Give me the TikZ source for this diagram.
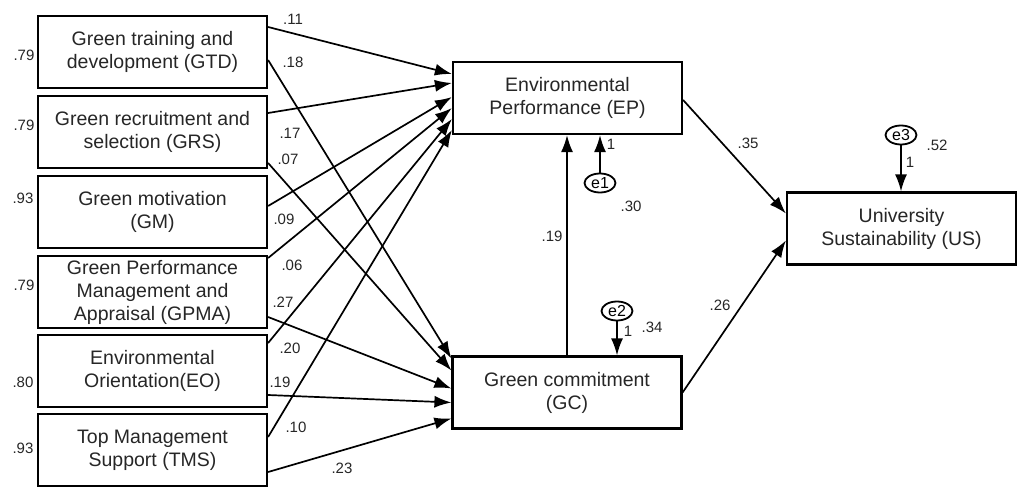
\documentclass[tikz,border=0pt]{standalone}
\usepackage{fontspec}
\setmainfont{Liberation Sans}
\usetikzlibrary{arrows.meta,shapes.geometric}
\begin{document}
\begin{tikzpicture}[x=1pt,y=-1pt,
  box/.style={draw,line width=2.2pt,minimum width=229pt,minimum height=72pt,inner sep=0pt,align=center,
    font=\fontsize{19.5}{23}\selectfont,text=black!85},
  err/.style={draw,ellipse,line width=1.8pt,minimum width=31pt,minimum height=19pt,inner sep=0pt,
    font=\fontsize{16}{16}\selectfont},
  coef/.style={font=\fontsize{15}{15}\selectfont,inner sep=0pt,text=black!85},
  path/.style={line width=1.7pt,-{Latex[length=17pt,width=12pt]}}]
\useasboundingbox (0,0) rectangle (1019,489);
% boxes
\node[box] (GTD) at (152.5,52) {Green training and\\development (GTD)};
\node[box] (GRS) at (152.5,132) {Green recruitment and\\selection (GRS)};
\node[box] (GM) at (152.5,212) {Green motivation\\(GM)};
\node[box] (GPMA) at (152.5,292) {Green Performance\\Management and\\Appraisal (GPMA)};
\node[box] (EO) at (152.5,371) {Environmental\\Orientation(EO)};
\node[box] (TMS) at (152.5,450) {Top Management\\Support (TMS)};
\node[box] (EP) at (567.5,98) {Environmental\\Performance (EP)};
\node[box] (GC) at (567,392.5) {Green commitment\\(GC)};
\node[box] (US) at (901.5,228.5) {University\\Sustainability (US)};
% error terms
\node[err] (e1) at (600,183) {e1};
\node[err] (e2) at (617,311) {e2};
\node[err] (e3) at (901,135) {e3};
% paths to EP
\draw[path] ([yshift=25pt]GTD.east) -- ([yshift=24pt]EP.west);
\draw[path] ([yshift=19pt]GRS.east) -- ([yshift=15pt]EP.west);
\draw[path] ([yshift=6pt]GM.east) -- ([yshift=1pt]EP.west);
\draw[path] ([yshift=34pt]GPMA.east) -- ([yshift=-10pt]EP.west);
\draw[path] ([yshift=28pt]EO.east) -- ([yshift=-21pt]EP.west);
\draw[path] ([yshift=13pt]TMS.east) -- ([yshift=-32pt]EP.west);
% paths to GC
\draw[path] ([yshift=-8pt]GTD.east) -- ([yshift=34pt]GC.west);
\draw[path] ([yshift=-31pt]GRS.east) -- ([yshift=22pt]GC.west);
\draw[path] ([yshift=-25pt]GPMA.east) -- ([yshift=4pt]GC.west);
\draw[path] ([yshift=-24pt]EO.east) -- ([yshift=-10pt]GC.west);
\draw[path] ([yshift=-22pt]TMS.east) -- ([yshift=-26pt]GC.west);
% other paths
\draw[path] (GC.north) -- (EP.south -| GC.north);
\draw[path] ([yshift=-2pt]EP.east) -- ([yshift=15pt]US.west);
\draw[path] (GC.east) -- ([yshift=-12pt]US.west);
\draw[path] (e1) -- (EP.south -| e1);
\draw[path] (e2) -- (GC.north -| e2);
\draw[path] (e3) -- (US.north -| e3);
% coefficient labels
\node[coef] (l1) at (293,19) {.11};
\node[coef] (l2) at (293,62) {.18};
\node[coef] (l3) at (290,133) {.17};
\node[coef] (l4) at (288,159) {.07};
\node[coef] (l5) at (284,219) {.09};
\node[coef] (l6) at (292,265) {.06};
\node[coef] (l7) at (283,302) {.27};
\node[coef] (l8) at (290,348) {.20};
\node[coef] (l9) at (280,382) {.19};
\node[coef] (l10) at (296,427) {.10};
\node[coef] (l11) at (342,468) {.23};
\node[coef] (l12) at (748,143) {.35};
\node[coef] (l13) at (631,206) {.30};
\node[coef] (l14) at (552,236) {.19};
\node[coef] (l15) at (720,305) {.26};
\node[coef] (l16) at (652,327) {.34};
\node[coef] (l17) at (937,145) {.52};
\node[coef] (o1) at (611,144) {1};
\node[coef] (o2) at (628,331) {1};
\node[coef] (o3) at (910,162) {1};
% variances
\node[coef] (v1) at (24,55) {.79};
\node[coef] (v2) at (24,125) {.79};
\node[coef] (v3) at (23,198) {.93};
\node[coef] (v4) at (24,285) {.79};
\node[coef] (v5) at (23,382) {.80};
\node[coef] (v6) at (23,448) {.93};
\end{tikzpicture}
\end{document}
